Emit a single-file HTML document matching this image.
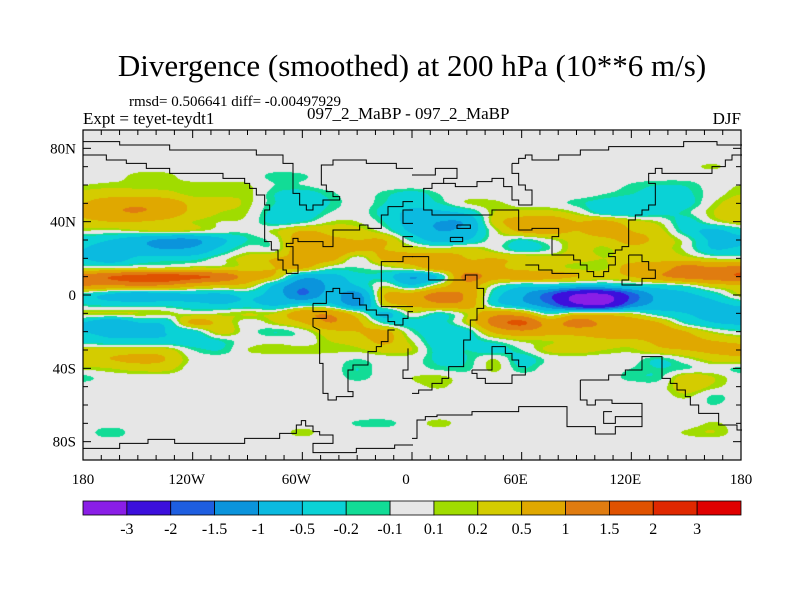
<!DOCTYPE html>
<html><head><meta charset="utf-8"><style>
html,body{margin:0;padding:0;background:#fff;}
#wrap{position:relative;width:800px;height:600px;overflow:hidden;font-family:"Liberation Serif",serif;color:#000;}
.t{position:absolute;white-space:nowrap;}
</style></head><body>
<div id="wrap">
<div class="t" style="left:0;width:824px;text-align:center;top:48px;font-size:31px;">Divergence (smoothed) at 200 hPa (10**6 m/s)</div>
<div class="t" style="left:129px;top:94px;font-size:15px;">rmsd= 0.506641 diff= -0.00497929</div>
<div class="t" style="left:83px;top:109px;font-size:17px;">Expt = teyet-teydt1</div>
<div class="t" style="left:307px;top:104px;font-size:17px;">097_2_MaBP - 097_2_MaBP</div>
<div class="t" style="right:59px;top:109px;font-size:17px;">DJF</div>
<canvas id="field" width="658" height="330" style="position:absolute;left:83px;top:130px;"></canvas>
<svg id="ov" width="800" height="600" style="position:absolute;left:0;top:0;"></svg>
</div>
<script>
const lats = [75,70,65,60,55,50,45,40,35,30,25,20,15,10,5,0,-5,-10,-15,-20,-25,-30,-35,-40,-45,-50,-55,-60,-65,-70,-75,-80];
const lons = [-180,-165,-150,-135,-120,-105,-90,-75,-60,-45,-30,-15,0,15,30,45,60,75,90,105,120,135,150,165,180];
const Z=[0,0,0,0,0,0,0,0,0,0,0,0,0,0,0,0,0,0,0,0,0,0,0,0,0];
const field = [
Z,
[0,0,0,0,0,0,0,0,0,0,0,0,0, 0,0,0,0,0,0,0,0,0,0.05,0.12,0],
[0,0,0.15,0.15,0,0,0,-0.15,-0.12,0,0,0,0, 0,0,0,0,0,0,0,0,0,0,0,0],
[0.1,0.15,0.15,0.15,0.15,0.15,0.12,-0.1,-0.1,0,0,0,0, 0,0,0,0,0,0,0,-0.12,-0.2,-0.18,0,0.1],
[0.3,0.35,0.35,0.3,0.15,0.15,0.15,-0.2,-0.3,-0.15,0,-0.15,-0.3, -0.1,0,0,0,0,0,-0.1,-0.2,-0.3,-0.25,0,0.2],
[0.5,0.8,0.9,0.8,0.4,0.3,0.15,-0.2,-0.3,-0.2,0,-0.2,-0.4, -0.2,0.1,0.15,0,0,-0.15,-0.3,-0.4,-0.4,-0.3,0.1,0.4],
[0.6,0.9,1.0,0.8,0.4,0.2,0.1,-0.3,-0.4,-0.1,0,-0.3,-0.6, -0.6,-0.4,0.2,0.3,0.3,0.1,-0.3,-0.4,-0.3,-0.15,0.2,0.5],
[0.4,0.5,0.5,0.4,0.2,0.1,0.05,-0.3,-0.2,0.1,0.1,-0.2,-0.7, -1.0,-0.9,0.3,0.7,0.8,0.5,0.6,0.3,0.1,-0.3,0.05,0.3],
[0.1,0.05,0.15,0.2,0.15,0,-0.05,0.15,0.5,0.4,0.3,0,-0.6, -1.0,-0.8,0.05,0.6,0.7,0.5,0.7,0.5,0.3,-0.3,-0.6,-0.3],
[-0.4,-0.5,-0.8,-1.1,-1.1,-0.6,-0.2,0,0.8,0.6,0.5,0.5,-0.2, -0.7,-0.5,0,-0.2,0.05,0.3,0.4,0.6,0.4,0,-0.6,-0.6],
[-0.5,-0.6,-0.8,-1.0,-0.9,-0.4,0,0,0.9,0.9,0.6,0.5,0.3, 0.2,0.3,0.05,-0.3,-0.1,0.3,0.15,0.4,0.3,0.05,-0.5,-0.4],
[-0.5,-0.8,-0.4,-0.3,-0.3,0,0.3,0.5,0.6,0.7,0,0.6,0.7, 0.8,0.5,0.5,0.4,0.3,0.3,0.2,0.3,0.4,0.3,0.1,0.05],
[0.05,0.05,0.1,0.1,0.2,0.2,0.3,0.5,0.6,0,-0.1,0.05,0.3, 0.8,0.6,0.6,0.35,0.3,0.15,0.15,0.7,0.7,1.2,1.0,1.2],
[1.2,1.5,1.7,1.8,1.6,1.4,0.8,0.4,-0.8,-0.7,-0.3,-0.3,-1.0, -0.4,1.2,0.7,0.8,0.7,0.5,0.3,0.5,0.9,1.2,1.3,1.5],
[1.0,0.9,1.0,0.9,0.6,0.4,0.3,-0.6,-1.4,-0.9,-0.5,0.1,-0.4, 0.3,0.8,0,-0.4,-0.4,-0.6,-0.6,-0.4,-0.3,-0.1,0.3,0.4],
[-0.3,-0.6,-0.9,-0.7,-0.6,-0.6,-0.4,-0.7,-1.5,-0.8,-1.2,0.5,0.7, 1.2,0.9,-0.3,-0.9,-1.8,-3.1,-3.2,-1.8,-0.8,-0.6,-0.3,0.2],
[-0.2,-0.3,-0.3,-0.3,-0.4,-0.5,-0.4,-0.6,-0.4,-0.4,-1.2,0.3,0.6, 0.9,0.8,-0.3,-0.8,-1.5,-2.9,-3.1,-1.5,-0.8,-0.6,-0.6,-0.4],
[0.2,0.2,0.2,0.15,0.05,0.1,0.2,0.2,0.8,0.9,0.2,-0.6,0.1, -0.2,0.2,0.8,0.6,-0.2,0.2,0.2,0.1,-0.3,-0.5,-0.6,-0.7],
[-0.5,-0.9,-0.5,-0.4,0.6,0.4,0,0.2,0.5,1.0,0.6,-0.2,-0.3, -0.3,0.2,1.2,1.6,0.8,1.2,0.9,0.8,0.5,-0.2,-0.5,-0.6],
[-0.5,-0.6,-0.6,-0.5,-0.3,0.3,0,-0.2,0,0.4,0.5,0.6,-0.1, -0.4,-0.3,0.6,0.9,0.7,0.7,0.8,0.9,0.8,0.5,0.1,-0.1],
[-0.3,-0.4,-0.4,-0.4,-0.4,-0.2,0,0.05,0,0.2,0.3,0.6,0.1, -0.4,-0.3,-0.1,0.15,0.2,0.3,0.4,0.4,0.6,0.6,0.5,0.4],
[0.3,0.3,0.3,0.3,-0.1,-0.2,0.1,0.15,0.15,0.15,0.15,0.3,0.2, -0.3,-0.2,-0.3,-0.1,0.25,0.3,0.2,0.15,0.4,0.5,0.6,0.6],
[0.4,0.5,0.6,0.5,0.05,0,0,0,0,0,-0.1,0,0, -0.25,-0.2,0.1,-0.3,-0.05,0,0,0,-0.2,0.05,0.3,0.4],
[0.15,0.2,0.3,0.3,0,0,0,0,0,0,-0.2,0,0, -0.15,-0.15,0.15,-0.2,0,0,0,-0.1,-0.2,-0.12,0,-0.15],
[-0.15,0,0,0,0,0,0,0,0,0,-0.15,0,0.1, 0.15,0,0,0,0,0,0,-0.15,-0.15,0.35,0.2,0],
[0,0,0,0,0,0,0,0,0,0,0,0,0.05, 0.12,0,0,0,0,0,0,0,0,0.35,0.15,0],
[0,0,0,0,0,0,0,0,0,0,0,0,0, 0,0,0,0,0,0,0,0,0,0.15,-0.12,0],
[0,0,0,0,0,0,0,0,0,0,0,0,0, 0,0,0,0,0,0,0,0,0,0,-0.1,0],
Z,
[0,0,0,0,0,0,0,0,0,0,-0.12,-0.15,0, 0.15,0,0,0,0,0,0,0,0,0,0.12,0],
[0,-0.2,0,0,0,0,0,0,0.15,0,0,0,0, 0,0,0,0,0,0,0,0,0,0.12,0.2,0],
Z
];
const levels = [-3,-2,-1.5,-1,-0.5,-0.2,-0.1,0.1,0.2,0.5,1,1.5,2,3];
const levelLabels = ["-3","-2","-1.5","-1","-0.5","-0.2","-0.1","0.1","0.2","0.5","1","1.5","2","3"];
const colors = ["#8a1ee6","#3c0fdc","#1e5ee0","#0b94dc","#0bbae0","#0ad2d6","#12dc96","#e6e6e6","#a0dc00","#d4cc00","#e0a800","#e07c10","#e05200","#e02800","#e00000"];
const latTicks = [80,40,0,-40,-80];
const latTickLabels = ["80N","40N","0","40S","80S"];
const lonTicks = [-180,-120,-60,0,60,120,180];
const lonTickLabels = ["180","120W","60W","0","60E","120E","180"];

const PL=83, PT=130, PW=658, PH=330;
function xOf(lon){return PL+(lon+180)/360*PW;}
function yOf(lat){return PT+(90-lat)/180*PH;}
function cub(p0,p1,p2,p3,t){return p1+0.5*t*(p2-p0+t*(2*p0-5*p1+4*p2-p3+t*(3*(p1-p2)+p3-p0)));}
function val(lon,lat){
  const r=(lats[0]-lat)/5, c=(lon-lons[0])/15;
  const nr=lats.length, nc=lons.length;
  const g=(i,j)=>(i<0||i>=nr)?0:field[i][Math.max(0,Math.min(nc-1,j))];
  const r0=Math.floor(r), c0=Math.floor(c), fr=r-r0, fc=c-c0;
  const rows=[];
  for(let k=-1;k<=2;k++){const i=r0+k;rows.push(cub(g(i,c0-1),g(i,c0),g(i,c0+1),g(i,c0+2),fc));}
  return cub(rows[0],rows[1],rows[2],rows[3],fr);
}
function idx(v){let k=0;while(k<levels.length&&v>=levels[k])k++;return k;}
const rgb=colors.map(h=>[parseInt(h.slice(1,3),16),parseInt(h.slice(3,5),16),parseInt(h.slice(5,7),16)]);
const cv=document.getElementById('field'),ctx=cv.getContext('2d');
const im=ctx.createImageData(PW,PH);
for(let py=0;py<PH;py++){const lat=90-(py+0.5)/PH*180;
 for(let px=0;px<PW;px++){const lon=-180+(px+0.5)/PW*360;
  const c=rgb[idx(val(lon,lat))];const o=(py*PW+px)*4;
  im.data[o]=c[0];im.data[o+1]=c[1];im.data[o+2]=c[2];im.data[o+3]=255;}}
ctx.putImageData(im,0,0);

const NS='http://www.w3.org/2000/svg';
const svg=document.getElementById('ov');
function mk(tag,attrs,parent){const e=document.createElementNS(NS,tag);for(const k in attrs)e.setAttribute(k,attrs[k]);(parent||svg).appendChild(e);return e;}
const coastL=["0,35 110,35 110,45 260,45 260,60 520,60 520,75 600,75 600,100 630,100 630,190 650,190 650,225 670,225 670,240 690,240 690,225 720,225 720,210 770,210 770,200 750,200 750,185 730,185 730,165 715,165 715,105 750,105 750,90 850,90 850,100 940,100 940,115 990,115",
"0,75 70,75 70,90 130,90 130,100 190,100 190,115 260,115 260,130 420,130 420,145 485,145 485,160 500,160 500,175 520,175 520,195 545,195 545,225 560,225 560,240 545,240 545,335 565,335 565,360 585,360 585,390 600,390 600,420 610,420 610,430 645,430 645,405 630,405 630,350 610,350 610,340 630,340 630,325 645,325 645,335 720,335 720,350 750,350 750,300 830,300 830,285 855,285 855,295 895,295 895,255 915,255 915,230 960,230 960,215 990,215",
"990,240 960,240 960,280 990,280","990,320 960,320 960,350 990,350",
"990,380 960,380 960,395 895,395 895,530 990,530",
"690,520 730,520 730,485 750,485 750,475 770,475 770,490 810,490 810,505 830,505 830,525 850,525 850,540 880,540 880,555 915,555 915,575 935,575 935,585 960,585 960,565 975,565 975,545 990,545",
"690,520 690,545 730,545 730,565 690,565 690,590 710,600 710,700 720,700 720,790 735,790 735,810 760,810 760,800 810,800 810,785 795,785 795,720 810,720 810,705 855,705 855,665 880,665 880,650 895,650 895,635 915,635 915,600 935,600",
"975,655 975,720 960,720 960,745 990,745",
"0,955 110,955 110,940 195,940 195,928 275,928 275,940 485,940 485,925 590,925 590,910 640,910 640,885 655,885 655,872 668,872 668,888 690,888 690,905 710,905 710,915 750,915 750,940 690,940 690,968 820,968 820,955 935,955 935,945 990,945"];
const coastR=["0,135 70,135 70,115 135,115 135,145 95,145 95,160 60,160 60,175 35,175 35,240 60,240 60,255 240,255 240,240 320,240 320,300 360,300 360,295 440,295 440,320 420,320 420,375 485,375 485,390 505,390 505,405 525,405 525,425 545,425 545,440 575,440 575,425 590,425 590,405 610,405 610,380 590,380 590,370 610,370 610,360 630,360 630,350 650,350 650,270 670,270 670,255 690,255 690,240 710,240 710,225 730,225 730,160 710,160 710,130 730,130 730,115 750,115 750,130 900,130 900,110 940,110 940,90 960,90 960,75 990,75",
"300,100 320,100 320,85 340,85 340,75 360,75 360,90 440,90 440,75 505,75 505,60 590,60 590,50 815,50 815,35 915,35 915,45 990,45",
"300,100 300,130 320,130 320,165 340,165 340,180 360,180 360,225 320,225 320,210 300,210 300,170 275,170 275,145 240,145 240,155 195,155 195,170 130,170 130,160 95,160",
"650,375 690,375 690,395 710,395 710,420 730,420 730,445 690,445 690,465 630,465 630,450 650,450 650,375",
"340,405 380,405 380,420 420,420 420,430 500,430 500,445",
"135,285 175,285 175,295 135,295 135,285","115,322 152,322 152,335 115,335 115,322",
"0,380 50,380 50,450 160,450 160,435 195,435 195,475 215,475 215,535 195,535 195,570 175,570 175,630 155,630 155,710 110,710 110,745 90,745 90,760 60,760 60,780 20,780 20,790 0,790",
"180,720 240,720 240,650 280,650 280,670 300,670 300,690 320,690 320,710 340,710 340,735 300,735 300,760 220,760 220,745 195,745 195,730 180,730 180,720",
"505,750 590,750 590,735 640,735 640,720 690,720 690,680 750,680 750,745 775,745 775,760 795,760 795,780 820,780 820,800 835,800 835,825 860,825 860,850 920,850 920,885 975,885 975,900 990,900",
"505,750 505,810 525,810 525,825 550,825 550,810 600,810 600,820 690,820 690,860 610,860 610,880 575,880 575,845 600,845",
"0,925 15,925 15,870 40,870 40,860 75,860 75,855 180,855 180,845 320,845 320,830 465,830 465,890 550,890 550,912 610,912 610,890 690,890 690,830"];
const gc=mk('g',{transform:'translate(0,0)'});


const gl=mk('g',{transform:'translate(83,130) scale(0.33333)'},gc);
const gr=mk('g',{transform:'translate(412,130) scale(0.33333)'},gc);
coastL.forEach(p=>{const e=mk('polyline',{points:p,fill:'none',stroke:'#000','stroke-width':3},gl);

});
coastR.forEach(p=>{const e=mk('polyline',{points:p,fill:'none',stroke:'#000','stroke-width':3},gr);

});

const fr=mk('rect',{x:PL,y:PT,width:PW,height:PH,fill:'none',stroke:'#000','stroke-width':1.2});


for(let lon=-180;lon<=180;lon+=10){const x=xOf(lon),L=(lon%60===0)?8:5;
 mk('line',{x1:x,y1:PT+PH,x2:x,y2:PT+PH-L,stroke:'#000','stroke-width':1});
 mk('line',{x1:x,y1:PT,x2:x,y2:PT+L,stroke:'#000','stroke-width':1});}
for(let lat=-90;lat<=90;lat+=10){const y=yOf(lat),L=(lat%40===0&&Math.abs(lat)<90)?8:5;
 mk('line',{x1:PL,y1:y,x2:PL+L,y2:y,stroke:'#000','stroke-width':1});
 mk('line',{x1:PL+PW,y1:y,x2:PL+PW-L,y2:y,stroke:'#000','stroke-width':1});}
latTicks.forEach((lat,i)=>{const t=mk('text',{x:76,y:yOf(lat)+5,'text-anchor':'end','font-family':'Liberation Serif, serif','font-size':15});
 t.textContent=latTickLabels[i];
 
 });
lonTicks.forEach((lon,i)=>{const t=mk('text',{x:xOf(lon)-(i>0&&i<6?6:0),y:484,'text-anchor':'middle','font-family':'Liberation Serif, serif','font-size':15});
 t.textContent=lonTickLabels[i];
 
 });
const cb=mk('g',{});


const CX=83,CW=658,CY=501,CH=14,bw=CW/colors.length;
colors.forEach((c,i)=>{const r=mk('rect',{x:CX+i*bw,y:CY,width:bw,height:CH,fill:c,stroke:'#000','stroke-width':0.8},cb);
 
 });
levelLabels.forEach((s,i)=>{const t=mk('text',{x:CX+(i+1)*bw,y:534,'text-anchor':'middle','font-family':'Liberation Serif, serif','font-size':16},cb);
 t.textContent=s;
 
 });
</script>
</body></html>
